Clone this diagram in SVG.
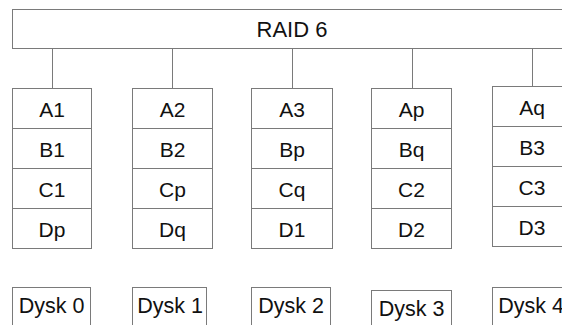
<svg xmlns="http://www.w3.org/2000/svg" width="562" height="325" viewBox="0 0 562 325">
  <style>
    .box { fill: #ffffff; stroke: #7a7a7a; stroke-width: 1; }
    .wire { fill: none; stroke: #7a7a7a; stroke-width: 1; }
    .t { font-family: "Liberation Sans", Arial, sans-serif; font-size: 21px; fill: #111111; text-anchor: middle; }
    .title { font-size: 22px; }
    .disk { font-size: 21.5px; }
  </style>
  <rect width="562" height="325" fill="#ffffff"/>

  <!-- array controller -->
  <g id="raid6">
    <rect class="box" x="12.5" y="9.5" width="560" height="39"/>
    <text class="t title" x="292" y="37">RAID 6</text>
  </g>

  <!-- links from controller to each disk -->
  <g id="connectors">
    <line class="wire" x1="52.5" y1="48.5" x2="52.5" y2="88.5"/>
    <line class="wire" x1="172.5" y1="48.5" x2="172.5" y2="88.5"/>
    <line class="wire" x1="292.5" y1="48.5" x2="292.5" y2="88.5"/>
    <line class="wire" x1="412.5" y1="48.5" x2="412.5" y2="88.5"/>
    <line class="wire" x1="532.5" y1="48.5" x2="532.5" y2="86.5"/>
  </g>

  <!-- disk 0 stripes -->
  <g id="disk0">
    <rect class="box" x="12.5" y="88.5" width="79" height="40"/>
    <rect class="box" x="12.5" y="128.5" width="79" height="40"/>
    <rect class="box" x="12.5" y="168.5" width="79" height="40"/>
    <rect class="box" x="12.5" y="208.5" width="79" height="40"/>
    <text class="t" x="52" y="117">A1</text>
    <text class="t" x="52" y="157">B1</text>
    <text class="t" x="52" y="197">C1</text>
    <text class="t" x="52" y="237">Dp</text>
  </g>

  <!-- disk 1 stripes -->
  <g id="disk1">
    <rect class="box" x="132.5" y="88.5" width="80" height="40"/>
    <rect class="box" x="132.5" y="128.5" width="80" height="40"/>
    <rect class="box" x="132.5" y="168.5" width="80" height="40"/>
    <rect class="box" x="132.5" y="208.5" width="80" height="40"/>
    <text class="t" x="172.5" y="117">A2</text>
    <text class="t" x="172.5" y="157">B2</text>
    <text class="t" x="172.5" y="197">Cp</text>
    <text class="t" x="172.5" y="237">Dq</text>
  </g>

  <!-- disk 2 stripes -->
  <g id="disk2">
    <rect class="box" x="251.5" y="88.5" width="81" height="40"/>
    <rect class="box" x="251.5" y="128.5" width="81" height="40"/>
    <rect class="box" x="251.5" y="168.5" width="81" height="40"/>
    <rect class="box" x="251.5" y="208.5" width="81" height="40"/>
    <text class="t" x="292" y="117">A3</text>
    <text class="t" x="292" y="157">Bp</text>
    <text class="t" x="292" y="197">Cq</text>
    <text class="t" x="292" y="237">D1</text>
  </g>

  <!-- disk 3 stripes -->
  <g id="disk3">
    <rect class="box" x="371.5" y="88.5" width="80" height="40"/>
    <rect class="box" x="371.5" y="128.5" width="80" height="40"/>
    <rect class="box" x="371.5" y="168.5" width="80" height="40"/>
    <rect class="box" x="371.5" y="208.5" width="80" height="40"/>
    <text class="t" x="411.5" y="117">Ap</text>
    <text class="t" x="411.5" y="157">Bq</text>
    <text class="t" x="411.5" y="197">C2</text>
    <text class="t" x="411.5" y="237">D2</text>
  </g>

  <!-- disk 4 stripes -->
  <g id="disk4">
    <rect class="box" x="492.5" y="86.5" width="80" height="40"/>
    <rect class="box" x="492.5" y="126.5" width="80" height="40"/>
    <rect class="box" x="492.5" y="166.5" width="80" height="40"/>
    <rect class="box" x="492.5" y="206.5" width="80" height="40"/>
    <text class="t" x="532" y="115">Aq</text>
    <text class="t" x="532" y="155">B3</text>
    <text class="t" x="532" y="195">C3</text>
    <text class="t" x="532" y="235">D3</text>
  </g>

  <!-- disk labels -->
  <g id="label0">
    <rect class="box" x="12.5" y="287.5" width="78" height="45"/>
    <text class="t disk" x="51.5" y="313">Dysk 0</text>
  </g>
  <g id="label1">
    <rect class="box" x="132.5" y="287.5" width="74" height="45"/>
    <text class="t disk" x="170" y="313">Dysk 1</text>
  </g>
  <g id="label2">
    <rect class="box" x="251.5" y="287.5" width="79" height="45"/>
    <text class="t disk" x="291" y="313">Dysk 2</text>
  </g>
  <g id="label3">
    <rect class="box" x="371.5" y="290.5" width="80" height="45"/>
    <text class="t disk" x="411.5" y="316">Dysk 3</text>
  </g>
  <g id="label4">
    <rect class="box" x="492.5" y="287.5" width="80" height="45"/>
    <text class="t disk" x="531" y="313">Dysk 4</text>
  </g>
</svg>
